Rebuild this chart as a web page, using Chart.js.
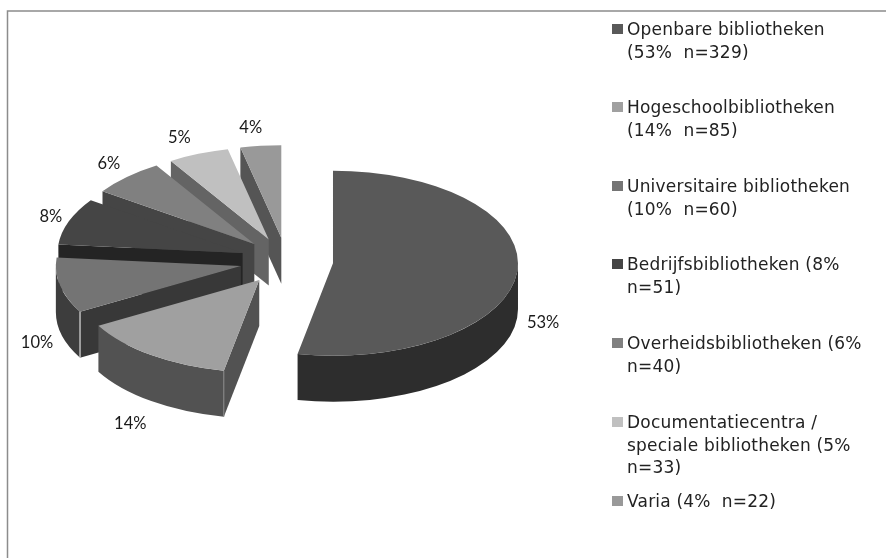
<!DOCTYPE html>
<html>
<head>
<meta charset="utf-8">
<style>
  body { margin: 0; background: #fff; }
  #box { position: absolute; left: 0; top: 0; width: 886px; height: 558px; }
</style>
<script src="https://cdn.jsdelivr.net/npm/chart.js@4"></script>
</head>
<body>
<div id="box"><canvas id="pieChart" width="886" height="558"></canvas></div>
<script>
// Respondents per library type
const categories = ['Openbare bibliotheken', 'Hogeschoolbibliotheken', 'Universitaire bibliotheken', 'Bedrijfsbibliotheken', 'Overheidsbibliotheken', 'Documentatiecentra / speciale bibliotheken', 'Varia'];
const counts = [329, 85, 60, 51, 40, 33, 22];
const percents = [53, 14, 10, 8, 6, 5, 4];
const legendLines = [
    ['Openbare bibliotheken', '(53%  n=329)'],
    ['Hogeschoolbibliotheken', '(14%  n=85)'],
    ['Universitaire bibliotheken', '(10%  n=60)'],
    ['Bedrijfsbibliotheken (8%', 'n=51)'],
    ['Overheidsbibliotheken (6%', 'n=40)'],
    ['Documentatiecentra /', 'speciale bibliotheken (5%', 'n=33)'],
    ['Varia (4%  n=22)']
];

const topColors = ['#595959', '#a0a0a0', '#747474', '#454545', '#808080', '#c0c0c0', '#999999'];
const rimColors = ['#2d2d2d', '#525252', '#3d3d3d', '#242424', '#454545', '#646464', '#555555'];
const cutColors = ['#2d2d2d', '#525252', '#383838', '#242424', '#454545', '#646464', '#555555'];
const seamColors = [null, '#8a8a8a', '#ffffff', null, null, null, null];

// fake 3D settings
const squash = 0.5;
const depth = 46;
const explode = 46.7;
const pieRadius = 185;

// label nudges from the rim, by hand
const labelPos = [[26, 5], [-21, 23], [-23, 11], [-18, -5], [-18, -13], [-19, -16], [-10, -18]];
const legendBaselines = [35, 113, 192, 270, 349, 428, 507];

function drawWalls(ctx, arc, i, ox, oy) {
    const r = arc.outerRadius;
    const a0 = arc.startAngle, a1 = arc.endAngle;
    const px = a => ox + Math.cos(a) * r;
    const py = a => oy + Math.sin(a) * r * squash;

    // curved outside wall, front half only
    const from = Math.max(a0, 0), to = Math.min(a1, Math.PI);
    if (to > from) {
        ctx.beginPath();
        ctx.ellipse(ox, oy, r, r * squash, 0, from, to);
        ctx.ellipse(ox, oy + depth, r, r * squash, 0, to, from, true);
        ctx.closePath();
        ctx.fillStyle = rimColors[i];
        ctx.fill();
    }
    // flat cut walls
    ctx.fillStyle = cutColors[i];
    [[a0, Math.cos(a0) < 0], [a1, Math.cos(a1) > 0]].forEach(([a, visible]) => {
        if (!visible) return;
        ctx.beginPath();
        ctx.moveTo(ox, oy);
        ctx.lineTo(px(a), py(a));
        ctx.lineTo(px(a), py(a) + depth);
        ctx.lineTo(ox, oy + depth);
        ctx.closePath();
        ctx.fill();
    });
    // thin light line where the two walls meet
    if (seamColors[i]) {
        ctx.strokeStyle = seamColors[i];
        ctx.lineWidth = 1;
        ctx.beginPath();
        ctx.moveTo(px(a0), py(a0));
        ctx.lineTo(px(a0), py(a0) + depth);
        ctx.stroke();
    }
}

const pie3d = {
    id: 'pie3d',
    beforeDatasetsDraw(chart) {
        const ctx = chart.ctx;
        const arcs = chart.getDatasetMeta(0).data.map((arc, i) => {
            const mid = (arc.startAngle + arc.endAngle) / 2;
            return { arc, i, mid };
        });
        // back slices first
        arcs.sort((a, b) => Math.sin(a.mid) - Math.sin(b.mid));
        arcs.forEach(({ arc, i, mid }) => {
            const ox = arc.x + Math.cos(mid) * explode;
            const oy = arc.y + Math.sin(mid) * explode * squash;
            drawWalls(ctx, arc, i, ox, oy);
            ctx.save();
            ctx.translate(ox, oy);
            ctx.scale(1, squash);
            ctx.translate(-arc.x, -arc.y);
            arc.draw(ctx);
            ctx.restore();
        });
        return false;
    },
    afterDraw(chart) {
        const ctx = chart.ctx;
        ctx.save();
        // outer frame, only top and left show
        ctx.strokeStyle = '#8c8c8c';
        ctx.lineWidth = 1.5;
        ctx.beginPath();
        ctx.moveTo(7.5, 558);
        ctx.lineTo(7.5, 11);
        ctx.lineTo(886, 11);
        ctx.stroke();

        // percent labels
        ctx.fillStyle = '#1a1a1a';
        ctx.font = '16.5px Lato';
        ctx.textAlign = 'center';
        ctx.textBaseline = 'middle';
        chart.getDatasetMeta(0).data.forEach((arc, i) => {
            const mid = (arc.startAngle + arc.endAngle) / 2;
            const front = Math.sin(mid) > -0.1 ? depth : 0;
            const x = arc.x + Math.cos(mid) * (explode + arc.outerRadius) + labelPos[i][0];
            const y = arc.y + Math.sin(mid) * (explode + arc.outerRadius) * squash + front + labelPos[i][1];
            ctx.fillText(percents[i] + '%', x, y);
        });

        // legend
        ctx.font = '17px "DejaVu Sans"';
        ctx.letterSpacing = '0.2px';
        ctx.textAlign = 'left';
        ctx.textBaseline = 'alphabetic';
        legendLines.forEach((lines, i) => {
            const y = legendBaselines[i];
            ctx.fillStyle = topColors[i];
            ctx.fillRect(612, y - 11, 11, 10);
            ctx.fillStyle = '#222222';
            lines.forEach((line, k) => ctx.fillText(line, 627, y + k * 22.7));
        });
        ctx.restore();
    }
};

new Chart(document.getElementById('pieChart').getContext('2d'), {
    type: 'pie',
    data: {
        labels: categories,
        datasets: [{
            data: counts,
            backgroundColor: topColors,
            borderWidth: 0
        }]
    },
    options: {
        responsive: false,
        animation: false,
        radius: pieRadius,
        layout: { padding: { left: 0, right: 313, top: 0, bottom: 36 } },
        plugins: { legend: { display: false }, tooltip: { enabled: false } }
    },
    plugins: [pie3d]
});
</script>
</body>
</html>
